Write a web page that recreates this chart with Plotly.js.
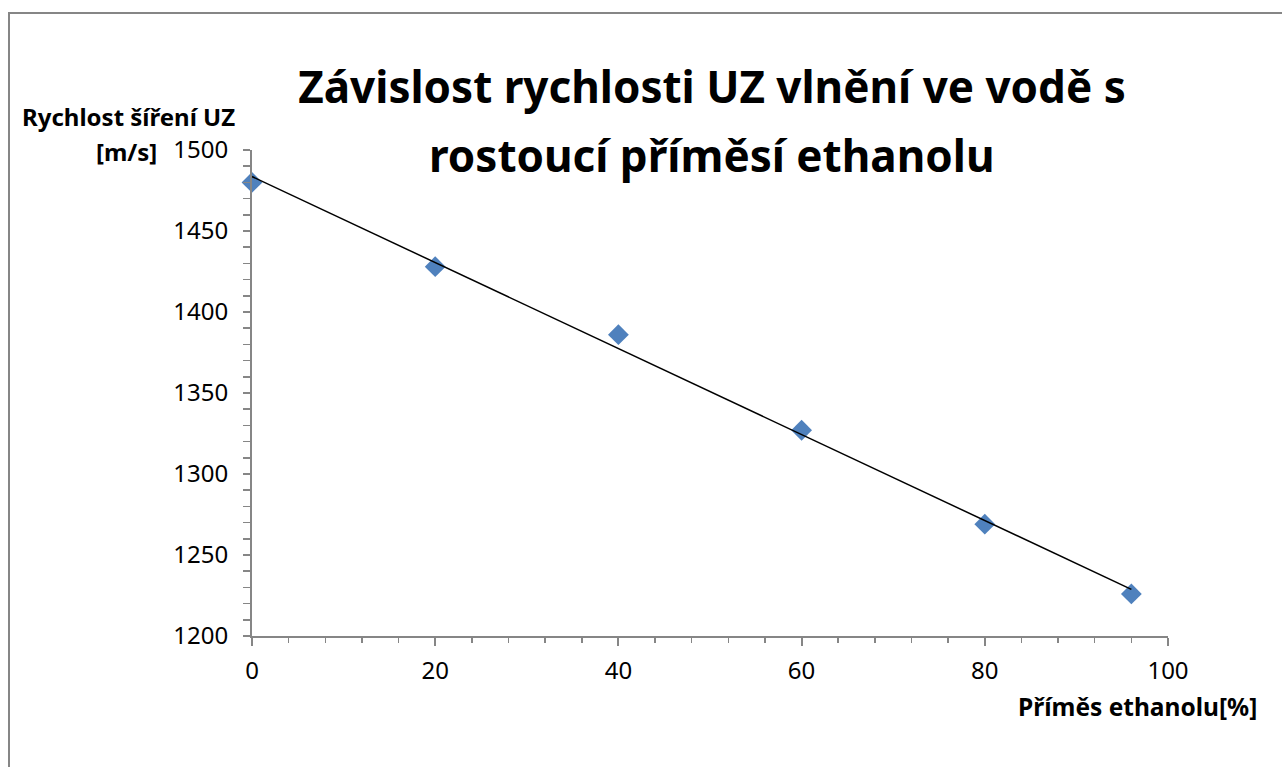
<!DOCTYPE html>
<html>
<head>
<meta charset="utf-8">
<script src="https://cdn.plot.ly/plotly-3.0.1.min.js"></script>
<style>
html,body{margin:0;padding:0;background:#fff;}
#chart{width:1282px;height:767px;}
</style>
</head>
<body>
<div id="chart"></div>
<script>
// Data
const ethanolPct = [0, 20, 40, 60, 80, 96];
const speed = [1480, 1428, 1386, 1327, 1269, 1226];
const xTickVals = [0, 20, 40, 60, 80, 100];
const yTickVals = [1200, 1250, 1300, 1350, 1400, 1450, 1500];

const titleLine1 = 'Závislost rychlosti UZ vlnění ve vodě s';
const titleLine2 = 'rostoucí příměsí ethanolu';
const yTitleLine1 = 'Rychlost šíření UZ';
const yTitleLine2 = '[m/s]';
const xTitleText = 'Příměs ethanolu[%]';

// Linear least-squares trend line (as in the original spreadsheet chart)
const n = ethanolPct.length;
const mx = ethanolPct.reduce((a, b) => a + b, 0) / n;
const my = speed.reduce((a, b) => a + b, 0) / n;
let sxy = 0, sxx = 0;
for (let i = 0; i < n; i++) {
  sxy += (ethanolPct[i] - mx) * (speed[i] - my);
  sxx += (ethanolPct[i] - mx) ** 2;
}
const slope = sxy / sxx;
const intercept = my - slope * mx;
const trendX = [ethanolPct[0], ethanolPct[n - 1]];
const trendY = trendX.map(x => intercept + slope * x);

const font = 'Noto Sans, Open Sans, DejaVu Sans, sans-serif';
const axisColor = '#868686';

const traces = [
  {
    x: ethanolPct, y: speed, type: 'scatter', mode: 'markers',
    marker: {symbol: 'diamond', size: 16, color: '#4F81BD'},
    showlegend: false, hoverinfo: 'x+y', cliponaxis: false
  },
  {
    x: trendX, y: trendY, type: 'scatter', mode: 'lines',
    line: {color: '#000000', width: 1.5},
    showlegend: false, hoverinfo: 'skip', cliponaxis: false
  }
];

const L = 252, R = 1168, T = 150, B = 636;
const W = R - L, H = B - T;
const px = v => (v - L) / W;
const py = v => (B - v) / H;

const layout = {
  width: 1282, height: 767,
  margin: {l: L, r: 1282 - R, t: T, b: 767 - B},
  paper_bgcolor: '#ffffff', plot_bgcolor: '#ffffff',
  font: {family: font, color: '#000000'},
  title: {
    text: titleLine1,
    font: {family: font, size: 44, color: '#000000', weight: 'bold'},
    x: 712 / 1282, xanchor: 'center', xref: 'container',
    y: 1 - 88 / 767, yanchor: 'middle', yref: 'container'
  },
  xaxis: {
    range: [0, 100], tickvals: xTickVals, ticktext: xTickVals.map(String),
    showgrid: false, zeroline: false, showline: true,
    linecolor: axisColor, linewidth: 2,
    ticks: 'outside', ticklen: 8, tickwidth: 2, tickcolor: axisColor,
    minor: {dtick: 4, ticks: 'outside', ticklen: 5, tickwidth: 1.5, tickcolor: axisColor, showgrid: false},
    tickfont: {family: font, size: 24, color: '#000000'},
    ticklabelstandoff: 4,
    fixedrange: true
  },
  yaxis: {
    range: [1200, 1500], tickvals: yTickVals, ticktext: yTickVals.map(String),
    showgrid: false, zeroline: false, showline: true,
    linecolor: axisColor, linewidth: 2,
    ticks: 'outside', ticklen: 7, tickwidth: 2, tickcolor: axisColor,
    minor: {dtick: 10, ticks: 'outside', ticklen: 7, tickwidth: 1.5, tickcolor: axisColor, showgrid: false},
    tickfont: {family: font, size: 24, color: '#000000'},
    ticklabelstandoff: 10,
    fixedrange: true
  },
  annotations: [
    {text: '<b>' + titleLine2 + '</b>', xref: 'paper', yref: 'paper',
     x: px(712), y: py(155), xanchor: 'center', yanchor: 'middle',
     showarrow: false, font: {family: font, size: 44, color: '#000000'}},
    {text: '<b>' + yTitleLine1 + '</b>', xref: 'paper', yref: 'paper',
     x: px(237), y: py(117), xanchor: 'right', yanchor: 'middle',
     showarrow: false, font: {family: font, size: 24, color: '#000000'}},
    {text: '<b>' + yTitleLine2 + '</b>', xref: 'paper', yref: 'paper',
     x: px(159), y: py(151), xanchor: 'right', yanchor: 'middle',
     showarrow: false, font: {family: font, size: 24, color: '#000000'}},
    {text: '<b>' + xTitleText + '</b>', xref: 'paper', yref: 'paper',
     x: px(1259), y: py(706), xanchor: 'right', yanchor: 'middle',
     showarrow: false, font: {family: font, size: 24.5, color: '#000000'}}
  ],
  shapes: [
    {type: 'rect', xref: 'paper', yref: 'paper',
     x0: px(9), x1: px(1300), y0: py(800), y1: py(13),
     line: {color: axisColor, width: 2}, fillcolor: 'rgba(0,0,0,0)', layer: 'below'}
  ]
};

Plotly.newPlot('chart', traces, layout, {displayModeBar: false, staticPlot: true});
</script>
</body>
</html>
